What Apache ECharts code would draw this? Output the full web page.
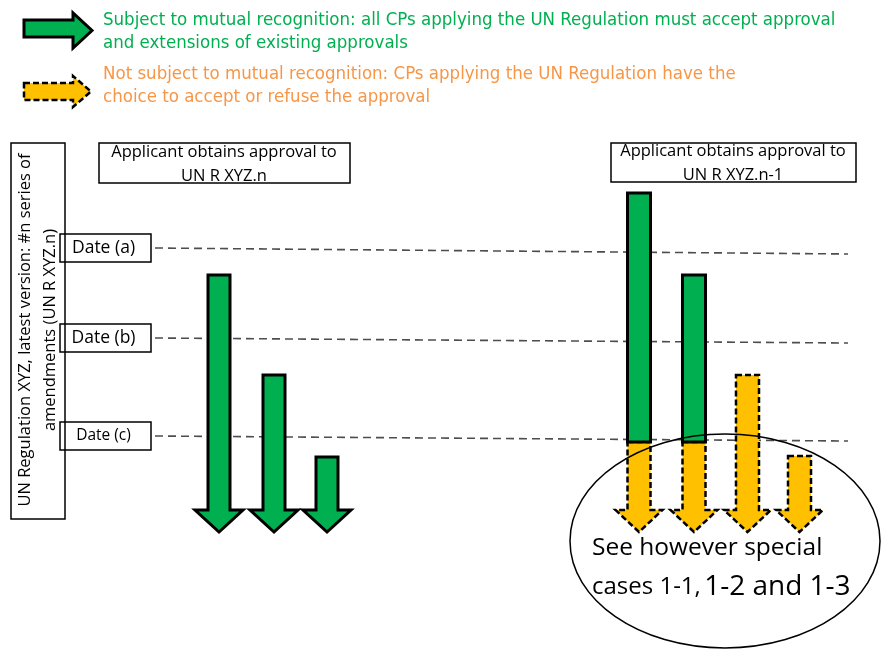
<!DOCTYPE html>
<html>
<head>
<meta charset="utf-8">
<script src="https://cdn.jsdelivr.net/npm/echarts@6/dist/echarts.min.js"></script>
<style>
html,body{margin:0;padding:0;background:#fff;}
#chart{width:885px;height:652px;}
</style>
</head>
<body>
<div id="chart"></div>
<script>
// ---- data (timeline units: larger = later, drawn downward) ----
const dateLabels = ['Date (a)', 'Date (b)', 'Date (c)'];
const dateValues = [248, 338, 436];
const dateDrift = [6, 5, 5];            // slight slope of the dashed date lines across the page

const leftArrowX = [219, 274, 327];
const leftArrowStart = [275, 375, 457];
const leftArrowKind = ['mutual', 'mutual', 'mutual'];

const rightArrowX = [639, 694, 747.5, 799.5];
const rightArrowStart = [193, 275, 375, 456];
const rightGreenEnd = [442, 442, null, null];
const rightArrowKind = ['mixed', 'mixed', 'choice', 'choice'];

const headStart = 510;   // where the arrowheads begin
const arrowTip = 532;    // where the arrows end

const legendTexts = [
  'Subject to mutual recognition: all CPs applying the UN Regulation must accept approval\nand extensions of existing approvals',
  'Not subject to mutual recognition: CPs applying the UN Regulation have the\nchoice to accept or refuse the approval'
];
const leftTitle = 'Applicant obtains approval to\nUN R XYZ.n';
const rightTitle = 'Applicant obtains approval to\nUN R XYZ.n-1';
const axisTitle = ['UN Regulation XYZ, latest version: #n series of', 'amendments (UN R XYZ.n)'];
const noteLines = ['See however special', 'cases 1-1,', '1-2 and 1-3'];

// ---- styles ----
const GREEN = '#00B050';
const YELLOW = '#FFC000';
const GREEN_TXT = '#00B050';
const ORANGE_TXT = '#F79646';
const FONT = '"Open Sans", "Noto Sans", sans-serif';
const NARROW = '"Liberation Sans Narrow", "DejaVu Sans Condensed", sans-serif';

const arrows = [];
leftArrowX.forEach((x, i) => arrows.push([x, leftArrowStart[i], -1, arrowTip, 0, 22, 48]));
rightArrowX.forEach((x, i) => arrows.push([x, rightArrowStart[i], rightGreenEnd[i] == null ? -1 : rightGreenEnd[i], arrowTip, rightArrowKind[i] === 'choice' ? 2 : 1, 23, 47]));

function arrowPoints(cx, top, hTop, tip, sw, hw) {
  return [[cx - sw / 2, top], [cx + sw / 2, top], [cx + sw / 2, hTop], [cx + hw / 2, hTop],
          [cx, tip], [cx - hw / 2, hTop], [cx - sw / 2, hTop]];
}

function renderArrow(params, api) {
  const x = api.value(0), start = api.value(1), gEnd = api.value(2), end = api.value(3), kind = api.value(4);
  const sw = api.value(5), hw = api.value(6);
  const cx = api.coord([x, start])[0];
  const top = api.coord([x, start])[1];
  const hTop = api.coord([x, headStart])[1];
  const tip = api.coord([x, end])[1];
  const children = [];
  if (kind === 0) {
    children.push({type: 'polygon', shape: {points: arrowPoints(cx, top, hTop, tip, sw, hw)},
      style: {fill: GREEN, stroke: '#000', lineWidth: 3, lineJoin: 'miter'}});
  } else if (kind === 1) {
    const g = api.coord([x, gEnd])[1];
    children.push({type: 'polygon', shape: {points: arrowPoints(cx, g, hTop, tip, sw, hw)},
      style: {fill: YELLOW, stroke: '#000', lineWidth: 2.5, lineDash: [6, 3], lineJoin: 'miter'}});
    children.push({type: 'rect', shape: {x: cx - sw / 2, y: top, width: sw, height: g - top},
      style: {fill: GREEN, stroke: '#000', lineWidth: 3}});
  } else {
    children.push({type: 'polygon', shape: {points: arrowPoints(cx, top, hTop, tip, sw, hw)},
      style: {fill: YELLOW, stroke: '#000', lineWidth: 2.5, lineDash: [6, 3], lineJoin: 'miter'}});
  }
  return {type: 'group', children};
}

const dateData = dateValues.map((v, i) => [v, dateDrift[i], dateLabels[i]]);
function renderDate(params, api) {
  const v = api.value(0), drift = api.value(1);
  const label = dateLabels[params.dataIndex];
  const p0 = api.coord([155, v]);
  const p1 = api.coord([848, v + drift]);
  const b0 = api.coord([60, v - 14]);
  const b1 = api.coord([151, v + 14]);
  return {type: 'group', children: [
    {type: 'line', shape: {x1: p0[0], y1: p0[1], x2: p1[0], y2: p1[1]},
      style: {stroke: '#4d4d4d', lineWidth: 1.6, lineDash: [8, 5]}},
    {type: 'rect', shape: {x: b0[0], y: b0[1], width: b1[0] - b0[0], height: b1[1] - b0[1]},
      style: {fill: 'none', stroke: '#000', lineWidth: 1.5}},
    {type: 'text', x: (b0[0] + b1[0]) / 2 - 2, y: (b0[1] + b1[1]) / 2,
      style: {text: label, fill: '#000', fontSize: params.dataIndex === 2 ? 15.5 : 17.5, fontFamily: FONT, align: 'center', verticalAlign: 'middle'}}
  ]};
}

const chart = echarts.init(document.getElementById('chart'), null, {renderer: 'canvas'});
chart.setOption({
  animation: false,
  backgroundColor: '#fff',
  grid: {left: 0, right: 0, top: 0, bottom: 0},
  xAxis: {type: 'value', min: 0, max: 885, show: false},
  yAxis: {type: 'value', min: 0, max: 652, inverse: true, show: false},
  series: [
    {type: 'custom', renderItem: renderDate, data: dateData, z: 2, silent: true},
    {type: 'custom', renderItem: renderArrow, data: arrows, z: 3, silent: true}
  ],
  graphic: [
    // legend icons
    {type: 'polygon', z: 10, shape: {points: [[24, 20], [73, 20], [73, 13], [92, 30.5], [73, 48], [73, 37], [24, 37]]},
      style: {fill: GREEN, stroke: '#000', lineWidth: 3}},
    {type: 'polygon', z: 10, shape: {points: [[24, 83], [73, 83], [73, 76], [91, 91.5], [73, 107], [73, 100], [24, 100]]},
      style: {fill: YELLOW, stroke: '#000', lineWidth: 2.5, lineDash: [6, 3]}},
    {type: 'text', z: 10, x: 103, y: 9, style: {text: legendTexts[0], fill: GREEN_TXT, fontSize: 18.5, fontFamily: NARROW, lineHeight: 23}},
    {type: 'text', z: 10, x: 103, y: 63, style: {text: legendTexts[1], fill: ORANGE_TXT, fontSize: 18.5, fontFamily: NARROW, lineHeight: 23}},
    // vertical axis title box
    {type: 'rect', z: 1, shape: {x: 11, y: 143, width: 54, height: 376}, style: {fill: 'none', stroke: '#000', lineWidth: 1.5}},
    {type: 'text', z: 1, x: 25, y: 330, rotation: Math.PI / 2,
      style: {text: axisTitle[0], fill: '#000', fontSize: 16.5, fontFamily: FONT, align: 'center', verticalAlign: 'middle'}},
    {type: 'text', z: 1, x: 50, y: 330, rotation: Math.PI / 2,
      style: {text: axisTitle[1], fill: '#000', fontSize: 16.5, fontFamily: FONT, align: 'center', verticalAlign: 'middle'}},
    // column titles
    {type: 'rect', z: 1, shape: {x: 99, y: 143, width: 251, height: 40}, style: {fill: 'none', stroke: '#000', lineWidth: 1.5}},
    {type: 'text', z: 1, x: 224, y: 164,
      style: {text: leftTitle, fill: '#000', fontSize: 16.5, fontFamily: FONT, align: 'center', verticalAlign: 'middle', lineHeight: 24}},
    {type: 'rect', z: 1, shape: {x: 611, y: 143, width: 245, height: 39}, style: {fill: 'none', stroke: '#000', lineWidth: 1.5}},
    {type: 'text', z: 1, x: 733, y: 163,
      style: {text: rightTitle, fill: '#000', fontSize: 16.5, fontFamily: FONT, align: 'center', verticalAlign: 'middle', lineHeight: 24}},
    // note ellipse
    {type: 'ellipse', z: 20, shape: {cx: 725, cy: 541, rx: 155, ry: 107}, style: {fill: 'none', stroke: '#000', lineWidth: 1.5}},
    {type: 'text', z: 21, x: 592, y: 548, style: {text: noteLines[0], fill: '#000', fontSize: 24.5, fontFamily: FONT, verticalAlign: 'middle'}},
    {type: 'text', z: 21, x: 592, y: 587, style: {
      text: '{s|' + noteLines[1] + '} {b|' + noteLines[2] + '}', verticalAlign: 'middle',
      rich: {s: {fontSize: 24, fontFamily: FONT, fill: '#000'}, b: {fontSize: 28, fontFamily: FONT, fill: '#000'}}}}
  ]
});
</script>
</body>
</html>
